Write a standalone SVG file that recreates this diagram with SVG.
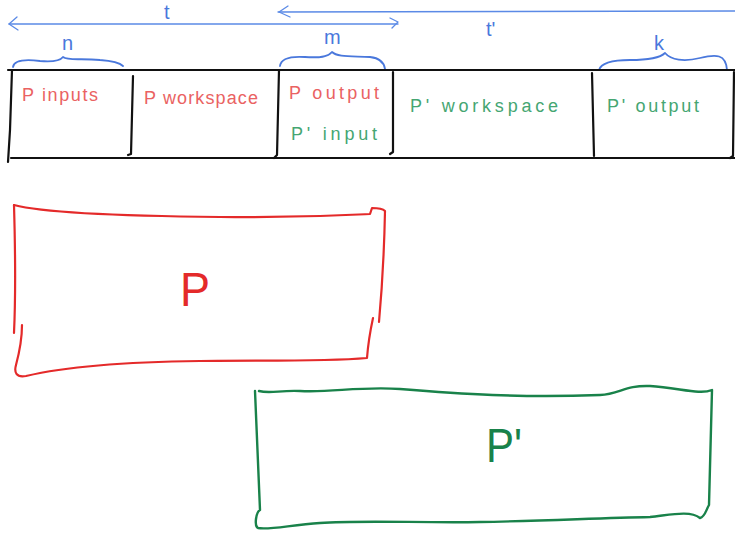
<svg xmlns="http://www.w3.org/2000/svg" width="735" height="535" viewBox="0 0 735 535">
  <style>
    .ink { fill: none; stroke-linecap: round; stroke-linejoin: round; }
    .blue { stroke: #5b8ae6; stroke-width: 1.3; }
    .brace { stroke: #4a78dc; stroke-width: 1.8; }
    .black { stroke: #111; stroke-width: 2.2; }
    .redbox { stroke: #e42a2a; stroke-width: 2.2; }
    .greenbox { stroke: #19824a; stroke-width: 2.4; }
    text { font-family: "Liberation Sans", "DejaVu Sans", sans-serif; }
    .lbl-blue { fill: #4a78dc; font-size: 20px; }
    .lbl-red { fill: #ea6262; font-size: 18px; }
    .lbl-green { fill: #45a672; font-size: 18px; }
    .big { font-size: 48px; }
  </style>

  <rect width="735" height="535" fill="#ffffff"/>

  <!-- span arrows -->
  <g id="span-t">
    <path class="ink blue" d="M9,24 L398,24"/>
    <path class="ink blue" d="M17,17 L9,24 L18,30"/>
    <path class="ink blue" d="M390,18 L398,22 L392,28"/>
    <text class="lbl-blue" x="164" y="19">t</text>
  </g>
  <g id="span-t-prime">
    <path class="ink blue" d="M278,12 L735,11"/>
    <path class="ink blue" d="M288,6 L279,12 L290,17"/>
    <text class="lbl-blue" x="486" y="36">t'</text>
  </g>

  <!-- braces -->
  <g id="brace-n">
    <path class="ink brace" d="M13,67 C14,60 24,59 40,61 C52,62 60,61 63,57 C68,61 80,58 100,60 C114,61 120,63 123,66"/>
    <text class="lbl-blue" x="62" y="50">n</text>
  </g>
  <g id="brace-m">
    <path class="ink brace" d="M280,66 C281,58 290,56 305,57 C320,58 328,57 332,52 C337,57 350,56 370,57 C380,58 384,62 385,69"/>
    <text class="lbl-blue" x="324" y="44">m</text>
  </g>
  <g id="brace-k">
    <path class="ink brace" d="M599,70 C601,63 612,60 630,60 C648,60 660,58 665,53 C671,60 684,62 700,58 C716,54 726,54 727,70"/>
    <text class="lbl-blue" x="654" y="50">k</text>
  </g>

  <!-- memory layout table -->
  <g id="table">
    <path class="ink black" d="M8,70 L735,70"/>
    <path class="ink black" d="M11,158 L735,158"/>
    <path class="ink black" d="M12,70 L10,130 L8,162"/>
    <path class="ink black" d="M133,76 L131,154 L128,155"/>
    <path class="ink black" d="M279,70 L277,155 L274,158"/>
    <path class="ink black" d="M393,72 L393,152 L390,154"/>
    <path class="ink black" d="M592,73 L594,156"/>
    <path class="ink black" d="M734,72 L733,156 L730,158"/>
  </g>

  <g id="cell-p-inputs"><text class="lbl-red" x="22" y="101" textLength="76" lengthAdjust="spacing">P inputs</text></g>
  <g id="cell-p-workspace"><text class="lbl-red" x="144" y="104" textLength="114" lengthAdjust="spacing">P workspace</text></g>
  <g id="cell-p-output"><text class="lbl-red" x="289" y="99" textLength="90" lengthAdjust="spacing">P output</text></g>
  <g id="cell-p-prime-input"><text class="lbl-green" x="291" y="140" textLength="86" lengthAdjust="spacing">P' input</text></g>
  <g id="cell-p-prime-workspace"><text class="lbl-green" x="410" y="112" textLength="148" lengthAdjust="spacing">P' workspace</text></g>
  <g id="cell-p-prime-output"><text class="lbl-green" x="607" y="112" textLength="92" lengthAdjust="spacing">P' output</text></g>

  <!-- program P -->
  <g id="node-p">
    <path class="ink redbox" d="M14,205 C40,212 120,216 220,217 C300,218 350,215 370,214 L372,208 C378,208 383,209 385,211 C384,260 381,300 379,322"/>
    <path class="ink redbox" d="M373,318 C370,332 368,345 367,358 C320,362 260,360 200,361 C120,362 60,368 26,376 C16,378 14,372 16,365 C20,350 22,340 22,325"/>
    <path class="ink redbox" d="M14,205 C15,240 16,290 14,333"/>
    <text class="big" x="180" y="306" fill="#e42a2a" textLength="30" lengthAdjust="spacingAndGlyphs">P</text>
  </g>

  <!-- program P' -->
  <g id="node-p-prime">
    <path class="ink greenbox" d="M259,391 C270,394 280,390 300,391 C330,393 360,386 400,389 C460,394 520,398 600,395 C620,394 625,385 650,386 C680,388 700,395 712,390 C711,430 710,470 709,505 C706,510 705,517 700,518 C690,510 670,515 650,517 C600,518 540,521 480,522 C420,523 360,520 320,523 C290,525 270,530 258,528 C254,526 256,512 260,510 C258,470 257,430 255,391"/>
    <text class="big" x="486" y="462" fill="#19824a" textLength="36" lengthAdjust="spacingAndGlyphs">P'</text>
  </g>
</svg>
